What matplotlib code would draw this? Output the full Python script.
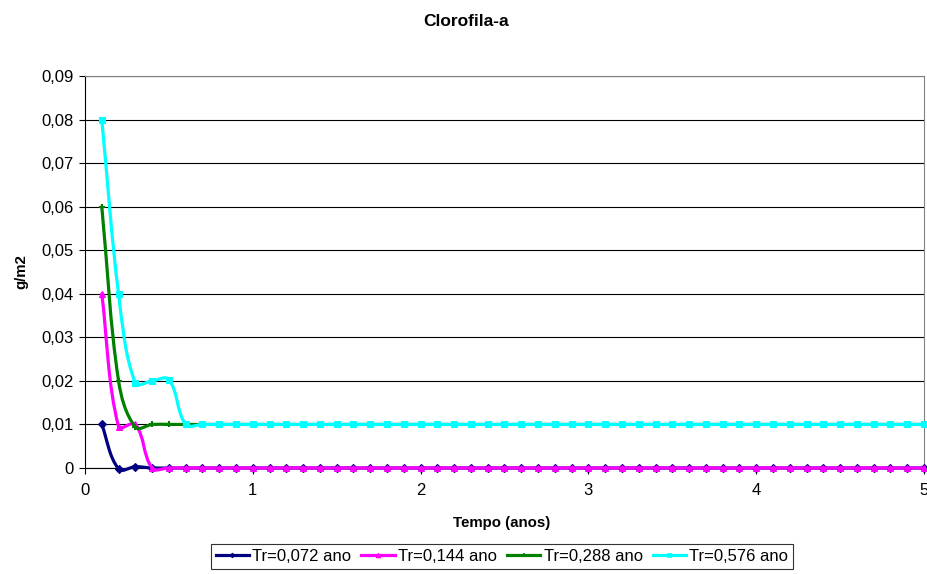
"""
Clorofila-a plot, remade from the excel chart.
"""
import numpy as np
import matplotlib
matplotlib.use("Agg")
import matplotlib.pyplot as plt
from matplotlib.path import Path
from matplotlib.patches import PathPatch
from matplotlib.lines import Line2D

plt.rcParams["font.family"] = ["Liberation Sans", "DejaVu Sans"]

# tempo (anos): one point every 0.1 year
tempo = [round(0.1 * k, 1) for k in range(1, 51)]

tr_072 = [0.01, -0.0002, 0.0003, 0.0] + [0.0] * 46
tr_144 = [0.04, 0.0095, 0.0100, 0.0] + [0.0] * 46
tr_288 = [0.06, 0.0200, 0.0094, 0.0100] + [0.01] * 46
tr_576 = [0.08, 0.0400, 0.0195, 0.0200, 0.0203, 0.0100] + [0.01] * 44

labels = ["Tr=0,072 ano", "Tr=0,144 ano", "Tr=0,288 ano", "Tr=0,576 ano"]
colors = ["#000080", "#FF00FF", "#008000", "#00FFFF"]
markers = ["D", "^", "+", "s"]
msizes = [4, 5, 5, 4.5]

y_ticks = [0, 0.01, 0.02, 0.03, 0.04, 0.05, 0.06, 0.07, 0.08, 0.09]
x_ticks = [0, 1, 2, 3, 4, 5]

W, H = 928, 574
AX_L, AX_R, AX_T, AX_B = 85, 924, 76, 468


def smoothPath(x, y, sx, sy):
    # excel style smoothed line: cubic bezier, tangent along p0->p2,
    # control arm = 1/3 of the segment length (measured in pixels)
    pts = np.column_stack([np.asarray(x, float) * sx, np.asarray(y, float) * sy])
    n = len(pts)

    def unit(v):
        d = np.hypot(*v)
        return v / d if d > 0 else v * 0

    verts = [pts[0]]
    codes = [Path.MOVETO]
    for i in range(n - 1):
        p0 = pts[i - 1] if i > 0 else pts[i]
        p1 = pts[i]
        p2 = pts[i + 1]
        p3 = pts[i + 2] if i + 2 < n else pts[i + 1]
        d12 = np.hypot(*(p2 - p1))
        c1 = p1 + unit(p2 - p0) * d12 / 3.0
        c2 = p2 - unit(p3 - p1) * d12 / 3.0
        verts += [c1, c2, p2]
        codes += [Path.CURVE4] * 3
    verts = np.array(verts) / np.array([sx, sy])
    return Path(verts, codes)


fig = plt.figure(figsize=(W / 100, H / 100), dpi=100)
ax = fig.add_axes([AX_L / W, (H - AX_B) / H, (AX_R - AX_L) / W, (AX_B - AX_T) / H])

sx = (AX_R - AX_L) / 5.0
sy = (AX_B - AX_T) / 0.09

series = [tr_072, tr_144, tr_288, tr_576]
handles = []
for vals, lab, col, mk, ms in zip(series, labels, colors, markers, msizes):
    patch = PathPatch(smoothPath(tempo, vals, sx, sy), fill=False, edgecolor=col,
                      lw=2.3, clip_on=False, zorder=3, capstyle="round",
                      joinstyle="round")
    ax.add_patch(patch)
    ax.plot(tempo, vals, ls="none", marker=mk, ms=ms, color=col, mec=col,
            mew=1.5 if mk == "+" else 0.8, clip_on=False, zorder=3)
    handles.append(Line2D([], [], color=col, lw=2.3, marker=mk, ms=ms - 1.5,
                          mew=1.2 if mk == "+" else 0.5))

ax.set_xlim(0, 5)
ax.set_ylim(0, 0.09)
ax.set_xticks(x_ticks)
ax.set_xticklabels([str(t) for t in x_ticks])
ax.set_yticks(y_ticks)
ax.set_yticklabels([("%.2f" % t).replace(".", ",") if t else "0" for t in y_ticks])
ax.tick_params(axis="both", labelsize=12, direction="out", length=4, width=0.8,
               colors="black")
ax.tick_params(axis="x", pad=7)
ax.tick_params(axis="y", pad=4)
ax.yaxis.grid(True, color="black", lw=0.8)
ax.set_axisbelow(True)

for side in ["top", "right"]:
    ax.spines[side].set_color("#808080")
    ax.spines[side].set_linewidth(0.8)
ax.spines["left"].set_color("black")
ax.spines["bottom"].set_color("black")
ax.spines["left"].set_linewidth(0.8)
ax.spines["bottom"].set_linewidth(0.8)

fig.text(466 / W, 1 - 22 / H, "Clorofila-a", ha="center", va="center",
         fontsize=12.5, fontweight="bold")
ax.set_xlabel("Tempo (anos)", fontsize=10.8, fontweight="bold")
ax.xaxis.set_label_coords((502 - AX_L) / (AX_R - AX_L), -(523 - AX_B) / (AX_B - AX_T))
ax.xaxis.label.set_va("center")
ax.set_ylabel("g/m2", fontsize=10.8, fontweight="bold")
ax.yaxis.set_label_coords(-(AX_L - 21) / (AX_R - AX_L), 0.5)
ax.yaxis.label.set_va("center")

leg = fig.legend(handles, labels, ncol=4, loc="upper center",
                 bbox_to_anchor=(502 / W, 1 - 544 / H), fontsize=12,
                 frameon=True, fancybox=False, edgecolor="black",
                 handlelength=2.0, handletextpad=0.2, columnspacing=0.6,
                 borderpad=0.3, borderaxespad=0)
leg.get_frame().set_linewidth(0.8)

fig.savefig("out.png", dpi=100)
